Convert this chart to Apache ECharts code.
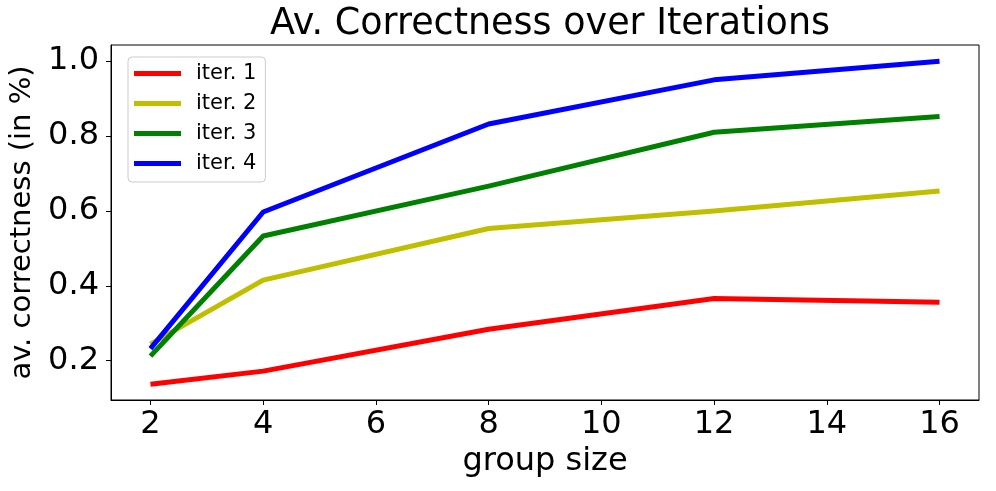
<!DOCTYPE html>
<html>
<head>
<meta charset="utf-8">
<script src="https://cdn.jsdelivr.net/npm/echarts@6/dist/echarts.min.js"></script>
<style>
  html, body { margin: 0; padding: 0; background: #fff; }
  #chart { width: 996px; height: 491px; }
</style>
</head>
<body>
<div id="chart"></div>
<script>
// data
const groupSizes = [2, 4, 8, 12, 16]
const iter1 = [0.137, 0.172, 0.284, 0.366, 0.356]
const iter2 = [0.244, 0.415, 0.553, 0.600, 0.653]
const iter3 = [0.212, 0.533, 0.666, 0.810, 0.852]
const iter4 = [0.232, 0.597, 0.832, 0.950, 1.000]
const seriesNames = ['iter. 1', 'iter. 2', 'iter. 3', 'iter. 4']
const xTicks = [2, 4, 6, 8, 10, 12, 14, 16]
const yTicks = [0.2, 0.4, 0.6, 0.8, 1.0]

const colors = ['#ff0000', '#bfbf00', '#008000', '#0000ff']
const font = 'DejaVu Sans'

function pairs(ys) {
  return groupSizes.map(function(x, i) { return [x, ys[i]] })
}

const chart = echarts.init(document.getElementById('chart'))
const allSeries = [iter1, iter2, iter3, iter4]

const options = {
  animation: false,
  title: {
    text: 'Av. Correctness over Iterations',
    left: 545,
    top: 1,
    textAlign: 'center',
    textStyle: {
      fontFamily: font,
      fontSize: 36.5,
      fontWeight: 'normal',
      color: '#000'
    }
  },
  legend: {
    orient: 'vertical',
    left: 128,
    top: 57,
    padding: [6, 9, 8, 6],
    itemWidth: 47,
    itemHeight: 5,
    itemGap: 9,
    icon: 'rect',
    backgroundColor: 'rgba(255,255,255,0.8)',
    borderColor: '#cccccc',
    borderWidth: 1,
    borderRadius: 4,
    textStyle: {
      fontFamily: font,
      fontSize: 21,
      color: '#000',
      padding: [0, 0, 0, 10]
    },
    data: seriesNames
  },
  grid: {
    left: 111,
    right: 17,
    top: 45,
    bottom: 91,
    show: true,
    borderColor: '#000',
    borderWidth: 1,
    backgroundColor: '#fff'
  },
  xAxis: {
    type: 'value',
    min: 1.3,
    max: 16.7,
    name: 'group size',
    nameLocation: 'middle',
    nameGap: 36,
    nameTextStyle: { fontFamily: font, fontSize: 32, color: '#000' },
    axisLine: { show: true, lineStyle: { color: '#000', width: 1 } },
    axisTick: {
      show: true,
      length: 5,
      customValues: xTicks,
      lineStyle: { color: '#000', width: 1 }
    },
    axisLabel: {
      customValues: xTicks,
      margin: 9,
      fontFamily: font,
      fontSize: 32,
      color: '#000'
    },
    splitLine: { show: false }
  },
  yAxis: {
    type: 'value',
    min: 0.0949,
    max: 1.0431,
    name: 'av. correctness (in %)',
    nameLocation: 'middle',
    nameGap: 64,
    nameRotate: 90,
    nameTextStyle: { fontFamily: font, fontSize: 29, color: '#000' },
    axisLine: { show: true, lineStyle: { color: '#000', width: 1 } },
    axisTick: {
      show: true,
      length: 5,
      customValues: yTicks,
      lineStyle: { color: '#000', width: 1 }
    },
    axisLabel: {
      customValues: yTicks,
      margin: 12,
      fontFamily: font,
      fontSize: 32,
      color: '#000',
      formatter: function(v) { return v.toFixed(1) }
    },
    splitLine: { show: false }
  },
  series: allSeries.map(function(ys, i) {
    return {
      name: seriesNames[i],
      type: 'line',
      data: pairs(ys),
      showSymbol: false,
      symbol: 'none',
      color: colors[i],
      lineStyle: { color: colors[i], width: 5, cap: 'butt', join: 'round' },
      z: 2 + i
    }
  })
}

chart.setOption(options)
</script>
</body>
</html>
